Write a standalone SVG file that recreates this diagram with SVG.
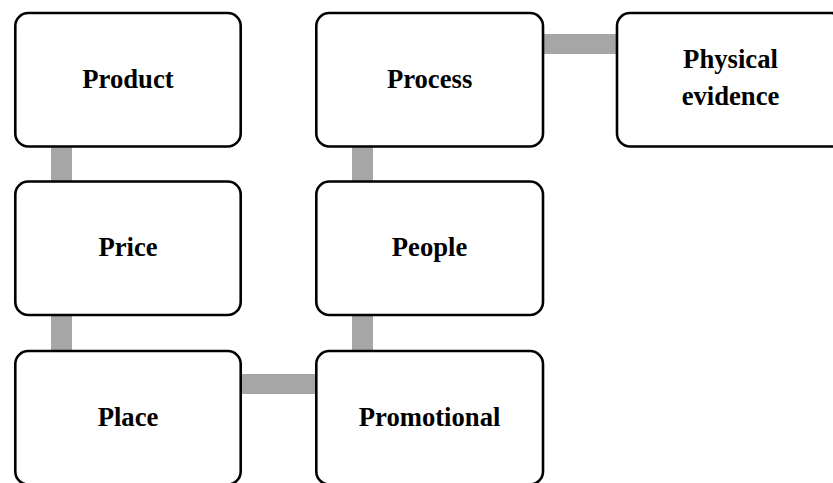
<svg xmlns="http://www.w3.org/2000/svg" width="833" height="483" viewBox="0 0 833 483">
<style>
.box{fill:#fff;stroke:#000;stroke-width:2.6}
.lbl{font-family:"Liberation Serif","Times New Roman",serif;font-weight:bold;font-size:26.67px;fill:#000;text-anchor:middle}
.con{fill:#a6a6a6}
</style>
<rect width="833" height="483" fill="#fff"/>
<g id="connectors">
<rect class="con" x="51" y="146" width="21" height="36"/>
<rect class="con" x="51" y="315" width="21" height="37"/>
<rect class="con" x="352" y="146" width="21" height="36"/>
<rect class="con" x="352" y="315" width="21" height="37"/>
<rect class="con" x="542" y="34" width="76" height="20"/>
<rect class="con" x="240" y="374" width="77" height="20"/>
</g>
<g id="product"><rect class="box" x="15.3" y="13" width="225.4" height="133.5" rx="13"/><text class="lbl" x="128" y="88">Product</text></g>
<g id="price"><rect class="box" x="15.3" y="181.5" width="225.4" height="133.5" rx="13"/><text class="lbl" x="128" y="256">Price</text></g>
<g id="place"><rect class="box" x="15.3" y="351" width="225.4" height="133.5" rx="13"/><text class="lbl" x="128" y="426">Place</text></g>
<g id="process"><rect class="box" x="316.3" y="13" width="226.7" height="133.5" rx="13"/><text class="lbl" x="429.6" y="88">Process</text></g>
<g id="people"><rect class="box" x="316.3" y="181.5" width="226.7" height="133.5" rx="13"/><text class="lbl" x="429.6" y="256">People</text></g>
<g id="promotional"><rect class="box" x="316.3" y="351" width="226.7" height="133.5" rx="13"/><text class="lbl" x="429.6" y="426">Promotional</text></g>
<g id="physical-evidence"><rect class="box" x="617" y="13" width="226.7" height="133.5" rx="13"/><text class="lbl" x="730.5" y="68">Physical</text><text class="lbl" x="730.5" y="105">evidence</text></g>
</svg>
